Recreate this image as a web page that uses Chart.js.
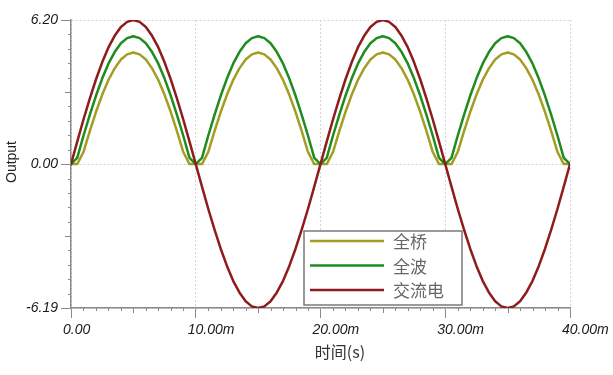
<!DOCTYPE html>
<html>
<head>
<meta charset="utf-8">
<script src="https://cdn.jsdelivr.net/npm/chart.js@4/dist/chart.umd.min.js"></script>
<style>
  body { margin: 0; background: #fff; }
  canvas { display: block; }
</style>
</head>
<body>
<canvas id="myChart" width="613" height="375"></canvas>
<script>
// time in ms
const timeMs = [
  0, 0.5, 1, 1.5, 2, 2.5, 3, 3.5, 4, 4.5, 5, 5.5, 6, 6.5, 7, 7.5, 8, 8.5, 9, 9.5,
  10, 10.5, 11, 11.5, 12, 12.5, 13, 13.5, 14, 14.5, 15, 15.5, 16, 16.5, 17, 17.5, 18, 18.5, 19, 19.5,
  20, 20.5, 21, 21.5, 22, 22.5, 23, 23.5, 24, 24.5, 25, 25.5, 26, 26.5, 27, 27.5, 28, 28.5, 29, 29.5,
  30, 30.5, 31, 31.5, 32, 32.5, 33, 33.5, 34, 34.5, 35, 35.5, 36, 36.5, 37, 37.5, 38, 38.5, 39, 39.5,
  40
];

// 全桥
const bridgeValues = [
  0, 0, 0.52, 1.41, 2.24, 2.98, 3.62, 4.12, 4.50, 4.72, 4.80, 4.72, 4.50, 4.12, 3.62, 2.98, 2.24, 1.41, 0.52, 0,
  0, 0, 0.52, 1.41, 2.24, 2.98, 3.62, 4.12, 4.50, 4.72, 4.80, 4.72, 4.50, 4.12, 3.62, 2.98, 2.24, 1.41, 0.52, 0,
  0, 0, 0.52, 1.41, 2.24, 2.98, 3.62, 4.12, 4.50, 4.72, 4.80, 4.72, 4.50, 4.12, 3.62, 2.98, 2.24, 1.41, 0.52, 0,
  0, 0, 0.52, 1.41, 2.24, 2.98, 3.62, 4.12, 4.50, 4.72, 4.80, 4.72, 4.50, 4.12, 3.62, 2.98, 2.24, 1.41, 0.52, 0,
  0
];

// 全波
const fullWaveValues = [
  0, 0.27, 1.22, 2.11, 2.94, 3.68, 4.32, 4.82, 5.20, 5.42, 5.50, 5.42, 5.20, 4.82, 4.32, 3.68, 2.94, 2.11, 1.22, 0.27,
  0, 0.27, 1.22, 2.11, 2.94, 3.68, 4.32, 4.82, 5.20, 5.42, 5.50, 5.42, 5.20, 4.82, 4.32, 3.68, 2.94, 2.11, 1.22, 0.27,
  0, 0.27, 1.22, 2.11, 2.94, 3.68, 4.32, 4.82, 5.20, 5.42, 5.50, 5.42, 5.20, 4.82, 4.32, 3.68, 2.94, 2.11, 1.22, 0.27,
  0, 0.27, 1.22, 2.11, 2.94, 3.68, 4.32, 4.82, 5.20, 5.42, 5.50, 5.42, 5.20, 4.82, 4.32, 3.68, 2.94, 2.11, 1.22, 0.27,
  0
];

// 交流电
const acValues = [
  0, 0.97, 1.92, 2.81, 3.64, 4.38, 5.02, 5.52, 5.90, 6.12, 6.20, 6.12, 5.90, 5.52, 5.02, 4.38, 3.64, 2.81, 1.92, 0.97,
  0, -0.97, -1.92, -2.81, -3.64, -4.38, -5.02, -5.52, -5.90, -6.12, -6.19, -6.12, -5.90, -5.52, -5.02, -4.38, -3.64, -2.81, -1.92, -0.97,
  0, 0.97, 1.92, 2.81, 3.64, 4.38, 5.02, 5.52, 5.90, 6.12, 6.20, 6.12, 5.90, 5.52, 5.02, 4.38, 3.64, 2.81, 1.92, 0.97,
  0, -0.97, -1.92, -2.81, -3.64, -4.38, -5.02, -5.52, -5.90, -6.12, -6.19, -6.12, -5.90, -5.52, -5.02, -4.38, -3.64, -2.81, -1.92, -0.97,
  0
];

const seriesLabels = ['全桥', '全波', '交流电'];
const seriesColors = ['#a39d24', '#1f8c1f', '#8e1c1c'];
const xTicks = [0, 10, 20, 30, 40];
const yTicks = [-6.19, 0, 6.20];
const xMinorStep = 1;
const yMinorDivs = 10;

const tickFont = { family: "'Liberation Sans', Arial, sans-serif", size: 14, style: 'italic' };
const gridColor = '#d4d4d4';
const axisColor = '#8a8a8a';

function pts(values) {
  return values.map((v, i) => ({ x: timeMs[i], y: v }));
}

// minor ticks, axis titles, legend box
const extras = {
  id: 'extras',
  afterDraw(chart) {
    const c = chart.ctx;
    const xs = chart.scales.x, ys = chart.scales.y;
    const area = chart.chartArea;
    c.save();
    c.strokeStyle = axisColor;
    c.lineWidth = 1;
    c.beginPath();
    for (let t = 0; t <= 40; t += xMinorStep) {
      if (t % 10 === 0) continue;
      const px = Math.round(xs.getPixelForValue(t)) + 0.5;
      const len = (t % 5 === 0) ? 5 : 3;
      c.moveTo(px, area.bottom);
      c.lineTo(px, area.bottom + len);
    }
    const segs = [[0, 6.20], [-6.19, 0]];
    segs.forEach(([a, b]) => {
      for (let k = 1; k < yMinorDivs; k++) {
        const v = a + (b - a) * k / yMinorDivs;
        const py = Math.round(ys.getPixelForValue(v)) + 0.5;
        const len = (k === yMinorDivs / 2) ? 6 : 3;
        c.moveTo(area.left, py);
        c.lineTo(area.left - len, py);
      }
    });
    c.stroke();

    // axis titles
    c.fillStyle = '#222';
    c.font = "14px 'Liberation Sans', Arial, sans-serif";
    c.textAlign = 'center';
    c.textBaseline = 'middle';
    c.save();
    c.translate(12, (area.top + area.bottom) / 2 - 2);
    c.rotate(-Math.PI / 2);
    c.fillText('Output', 0, 0);
    c.restore();
    c.fillStyle = '#333';
    c.font = "16px 'Noto Sans CJK SC', 'Liberation Sans', sans-serif";
    c.fillText('时间(s)', area.left + 269, area.bottom + 44);

    // legend
    const lx = area.left + 233, ly = area.top + 211, lw = 158, lh = 74;
    c.fillStyle = '#fff';
    c.fillRect(lx, ly, lw, lh);
    c.strokeStyle = '#7a7a7a';
    c.lineWidth = 1.5;
    c.strokeRect(lx, ly, lw, lh);
    c.font = "17px 'Noto Sans CJK SC', sans-serif";
    c.textAlign = 'left';
    seriesLabels.forEach((lab, i) => {
      const yy = ly + 10 + i * 24.5;
      c.strokeStyle = seriesColors[i];
      c.lineWidth = 2.5;
      c.beginPath();
      c.moveTo(lx + 6, yy);
      c.lineTo(lx + 80, yy);
      c.stroke();
      c.fillStyle = '#666';
      c.fillText(lab, lx + 89, yy + 1);
    });
    c.restore();
  }
};

const ctx = document.getElementById('myChart');
const newChart = new Chart(ctx, {
  type: 'line',
  data: {
    datasets: [
      { label: seriesLabels[0], data: pts(bridgeValues), borderColor: seriesColors[0], order: 2 },
      { label: seriesLabels[1], data: pts(fullWaveValues), borderColor: seriesColors[1], order: 1 },
      { label: seriesLabels[2], data: pts(acValues), borderColor: seriesColors[2], order: 0 }
    ]
  },
  options: {
    responsive: false,
    animation: false,
    events: [],
    elements: {
      line: { borderWidth: 2.5, tension: 0, borderJoinStyle: 'round', borderCapStyle: 'round' },
      point: { radius: 0 }
    },
    layout: { padding: { left: 0, right: 43, top: 20, bottom: 0 } },
    plugins: { legend: { display: false }, tooltip: { enabled: false } },
    scales: {
      x: {
        type: 'linear',
        min: 0,
        max: 40,
        afterBuildTicks: s => { s.ticks = xTicks.map(v => ({ value: v })); },
        afterFit: s => { s.height = 67; s.paddingLeft = 0; s.paddingRight = 0; },
        ticks: {
          callback: v => v === 0 ? '0.00' : v.toFixed(2) + 'm',
          align: 'start',
          labelOffset: -8,
          maxRotation: 0,
          autoSkip: false,
          padding: 4,
          color: '#1a1a1a',
          font: tickFont
        },
        grid: { color: gridColor, lineWidth: 1, tickLength: 10, tickColor: axisColor, tickWidth: 1 },
        border: { color: axisColor, width: 1.5, dash: [2, 2] }
      },
      y: {
        type: 'linear',
        min: -6.19,
        max: 6.20,
        afterBuildTicks: s => { s.ticks = yTicks.map(v => ({ value: v })); },
        afterFit: s => { s.width = 71; s.paddingTop = 0; s.paddingBottom = 0; },
        ticks: {
          callback: v => v.toFixed(2),
          padding: 3,
          color: '#1a1a1a',
          font: tickFont
        },
        grid: { color: gridColor, lineWidth: 1, tickLength: 10, tickColor: axisColor, tickWidth: 1 },
        border: { color: axisColor, width: 1.5, dash: [2, 2] }
      }
    }
  },
  plugins: [extras]
});
</script>
</body>
</html>
